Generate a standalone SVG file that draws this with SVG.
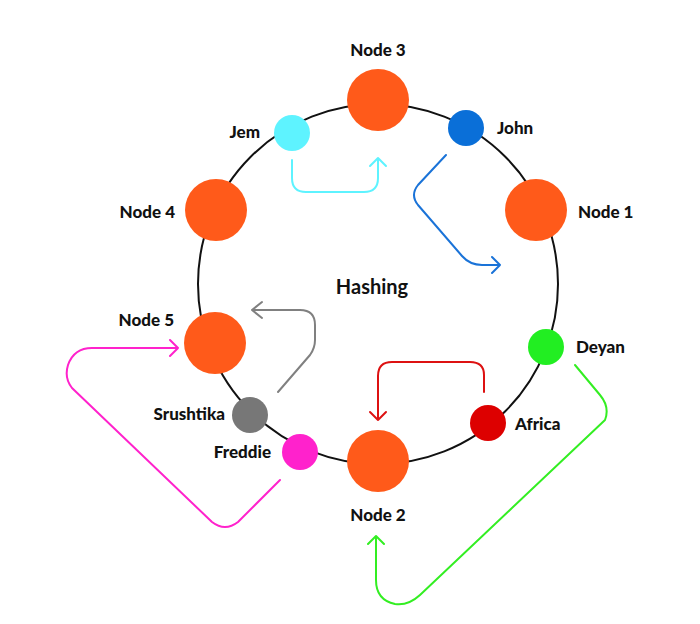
<svg xmlns="http://www.w3.org/2000/svg" width="700" height="624" viewBox="0 0 700 624">
<style>
.lbl{font-family:"Lato","Liberation Sans",sans-serif;font-weight:900;font-size:17px;fill:#111}
.big{fill:#ff5a1a}
.ar{fill:none;stroke-width:2;stroke-linecap:round;stroke-linejoin:round}
</style>
<rect width="700" height="624" fill="#fff"/>
<circle cx="378" cy="284" r="180" fill="none" stroke="#111" stroke-width="2"/>
<text class="lbl" x="372" y="294" text-anchor="middle" style="font-size:20px;font-weight:bold">Hashing</text>
<g id="connectors">
<path class="ar" stroke="#5ef3ff" d="M292 160 V178 Q292 192 306 192 H364 Q378 192 378 178 V158 M370 166 L378 158 L386 166"/>
<path class="ar" stroke="#1a73d8" d="M446 155 L418 185 Q410 195 418 205 L462 256 Q470 265 482 265 H500 M492 257 L500 265 L492 273"/>
<path class="ar" stroke="#808080" d="M278 392 L310 355 Q315 348 315 340 V325 Q315 310 300 310 H254 M262 302 L252 310 L262 318"/>
<path class="ar" stroke="#ff22cc" d="M280 480 L238 522 Q225 532 212 522 L72 388 Q64 378 68 365 Q74 348 92 348 H178 M170 340 L178 348 L170 356"/>
<path class="ar" stroke="#dd1111" d="M484 392 V375 Q484 362 470 362 H392 Q378 362 378 376 V420 M370 412 L378 420 L386 412"/>
<path class="ar" stroke="#33ee22" d="M575 365 L600 395 Q610 407 605 420 L420 595 Q408 606 395 604 Q376 600 376 580 V536 M368 544 L376 536 L384 544"/>
</g>
<g id="node3"><circle class="big" cx="378" cy="100" r="31"/><text class="lbl" x="378" y="56" text-anchor="middle">Node 3</text></g>
<g id="node1"><circle class="big" cx="536" cy="210" r="31"/><text class="lbl" x="578" y="218">Node 1</text></g>
<g id="node4"><circle class="big" cx="216" cy="210" r="31"/><text class="lbl" x="175" y="218" text-anchor="end">Node 4</text></g>
<g id="node5"><circle class="big" cx="215" cy="343" r="31"/><text class="lbl" x="174" y="326" text-anchor="end">Node 5</text></g>
<g id="node2"><circle class="big" cx="378" cy="461" r="31"/><text class="lbl" x="378" y="521" text-anchor="middle">Node 2</text></g>
<g id="jem"><circle cx="292" cy="133" r="18" fill="#5ef3ff"/><text class="lbl" x="260" y="138" text-anchor="end">Jem</text></g>
<g id="john"><circle cx="466" cy="128" r="18" fill="#0a6fd8"/><text class="lbl" x="497" y="134">John</text></g>
<g id="deyan"><circle cx="546" cy="347" r="18" fill="#22ee22"/><text class="lbl" x="576" y="353">Deyan</text></g>
<g id="africa"><circle cx="488" cy="423" r="18" fill="#dd0000"/><text class="lbl" x="515" y="430">Africa</text></g>
<g id="srushtika"><circle cx="250" cy="415" r="18" fill="#777"/><text class="lbl" x="225" y="420" text-anchor="end">Srushtika</text></g>
<g id="freddie"><circle cx="300" cy="452" r="18" fill="#ff22cc"/><text class="lbl" x="271" y="458" text-anchor="end">Freddie</text></g>
</svg>
